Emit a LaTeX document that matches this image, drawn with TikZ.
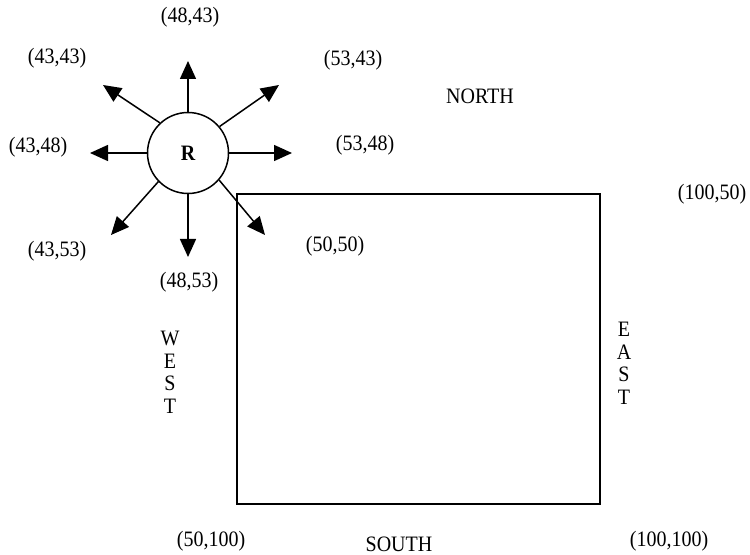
\documentclass[tikz,border=0pt]{standalone}
\usepackage{fontspec}
\usepackage{graphicx}
\setmainfont{Liberation Serif}
\usetikzlibrary{arrows.meta}
% slightly tall lettering for all labels
\newcommand\vstretch[1]{\scalebox{1}[1.1]{#1}}
\newcommand\upright[1]{\vstretch{\begin{tabular}{@{}c@{}}#1\end{tabular}}}
\begin{document}
\begin{tikzpicture}[x=1bp,y=-1bp,
  lbl/.style={inner sep=0pt,font=\fontsize{20bp}{20.5bp}\selectfont},
  ray/.style={line width=1.5bp,-{Triangle[length=18bp,width=16bp]}},
  robot/.style={circle,draw,line width=1.5bp,minimum size=81bp,inner sep=0pt,
    font=\fontsize{20bp}{22bp}\selectfont\bfseries}]
\useasboundingbox (0,0) rectangle (750,555);

% robot and its eight moves
\node[robot] (R) at (188,153) {\vstretch{R}};
\coordinate (tN)  at (188,61);
\coordinate (tS)  at (188,257);
\coordinate (tE)  at (292,153);
\coordinate (tW)  at (90,153);
\coordinate (tNW) at (103,85);
\coordinate (tNE) at (279,85);
\coordinate (tSW) at (111,235);
\coordinate (tSE) at (265,235);
\draw[ray] (R.90)   -- (tN);
\draw[ray] (R.270)  -- (tS);
\draw[ray] (R.0)    -- (tE);
\draw[ray] (R.180)  -- (tW);
\draw[ray] (R.133)  -- (tNW);
\draw[ray] (R.40)   -- (tNE);
\draw[ray] (R.224)  -- (tSW);
\draw[ray] (R.-41)  -- (tSE);

% the room
\node[draw,line width=1.5bp,minimum width=363bp,minimum height=310bp,inner sep=0pt]
  (room) at (418.5,349) {};

% coordinates of neighbouring cells
\node[lbl] (c4843) at (190,17)  {\vstretch{(48,43)}};
\node[lbl] (c4343) at (57,58)   {\vstretch{(43,43)}};
\node[lbl] (c5343) at (353,60)  {\vstretch{(53,43)}};
\node[lbl] (c4348) at (38,147)  {\vstretch{(43,48)}};
\node[lbl] (c5348) at (365,145) {\vstretch{(53,48)}};
\node[lbl] (c4353) at (57,251)  {\vstretch{(43,53)}};
\node[lbl] (c4853) at (189,282) {\vstretch{(48,53)}};

% corners of the room
\node[lbl] (c5050)   at (335,246) {\vstretch{(50,50)}};
\node[lbl] (c10050)  at (712,194) {\vstretch{(100,50)}};
\node[lbl] (c50100)  at (211,541) {\vstretch{(50,100)}};
\node[lbl] (c100100) at (669,541) {\vstretch{(100,100)}};

% compass sides
\node[lbl] (north) at (480,96)  {\vstretch{NORTH}};
\node[lbl] (south) at (399,544) {\vstretch{SOUTH}};
\node[lbl] (west)  at (170,375) {\upright{W\\E\\S\\T}};
\node[lbl] (east)  at (624,366) {\upright{E\\A\\S\\T}};
\end{tikzpicture}
\end{document}
